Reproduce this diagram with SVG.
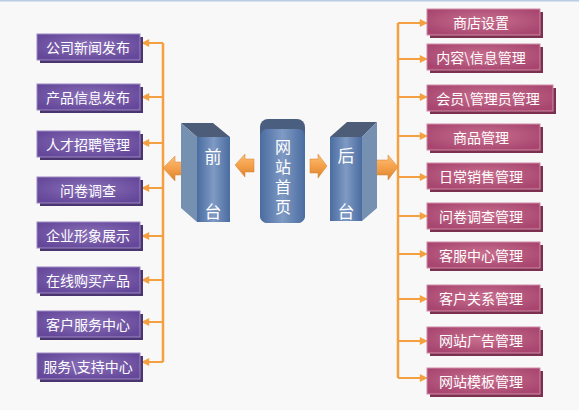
<svg xmlns="http://www.w3.org/2000/svg" width="579" height="410" viewBox="0 0 579 410">
<defs>
<radialGradient id="gP" cx="0.5" cy="0.45" r="0.6">
<stop offset="0" stop-color="#8a70b8"/>
<stop offset="1" stop-color="#65489a"/>
</radialGradient>
<radialGradient id="gR" cx="0.5" cy="0.45" r="0.6">
<stop offset="0" stop-color="#c8708f"/>
<stop offset="1" stop-color="#a84670"/>
</radialGradient>
<linearGradient id="gB" x1="0" y1="0" x2="1" y2="0">
<stop offset="0" stop-color="#4a6ca0"/>
<stop offset="0.5" stop-color="#7f9ac4"/>
<stop offset="1" stop-color="#4a6ca0"/>
</linearGradient>
<linearGradient id="gO" x1="0" y1="0" x2="0" y2="1">
<stop offset="0" stop-color="#fbbf78"/>
<stop offset="0.5" stop-color="#f5a04a"/>
<stop offset="1" stop-color="#d8832e"/>
</linearGradient>
<marker id="ah" viewBox="0 0 10 10" refX="9" refY="5" markerWidth="9" markerHeight="8" markerUnits="userSpaceOnUse" orient="auto">
<path d="M0,0 L10,5 L0,10 Z" fill="#f5a040"/>
</marker>
<style>
.pshadow{fill:#4a3570}
.pbox{fill:url(#gP);stroke:#9c88c4;stroke-width:1}
.rshadow{fill:#7c3050}
.rbox{fill:url(#gR);stroke:#d08aa4;stroke-width:1}
.t{font-family:"Noto Sans CJK SC","Noto Sans",sans-serif;font-size:14px;fill:#ffffff;text-anchor:middle;dominant-baseline:central}
.tb{font-family:"Noto Sans CJK SC","Noto Sans",sans-serif;font-size:17px;fill:#ffffff;text-anchor:middle;dominant-baseline:central}
.tv{font-family:"Noto Sans CJK SC","Noto Sans",sans-serif;font-size:16px;fill:#ffffff;writing-mode:vertical-rl;letter-spacing:4px}
.ln{stroke:#f5a040;stroke-width:2.5;fill:none}
.ar{stroke:#f5a040;stroke-width:2;fill:none;marker-end:url(#ah)}
.big{fill:url(#gO);stroke:#d8832e;stroke-width:0.5}
</style>
</defs>
<rect x="0" y="0" width="579" height="410" fill="#f8f8f8"/>
<line x1="0" y1="0.5" x2="579" y2="0.5" stroke="#b8cce4" stroke-width="2"/>

<g id="connectors">
<line class="ln" x1="163" y1="43" x2="163" y2="362"/>
<line class="ar" x1="163" y1="43" x2="142" y2="43"/>
<line class="ar" x1="163" y1="97" x2="142" y2="97"/>
<line class="ar" x1="163" y1="143" x2="142" y2="143"/>
<line class="ar" x1="163" y1="188" x2="142" y2="188"/>
<line class="ar" x1="163" y1="236" x2="142" y2="236"/>
<line class="ar" x1="163" y1="280" x2="142" y2="280"/>
<line class="ar" x1="163" y1="322" x2="142" y2="322"/>
<line class="ar" x1="163" y1="362" x2="142" y2="362"/>
<line class="ln" x1="398" y1="23" x2="398" y2="378"/>
<line class="ar" x1="398" y1="23" x2="427" y2="23"/>
<line class="ar" x1="398" y1="59" x2="427" y2="59"/>
<line class="ar" x1="398" y1="97" x2="427" y2="97"/>
<line class="ar" x1="398" y1="136" x2="427" y2="136"/>
<line class="ar" x1="398" y1="177" x2="427" y2="177"/>
<line class="ar" x1="398" y1="216" x2="427" y2="216"/>
<line class="ar" x1="398" y1="254" x2="427" y2="254"/>
<line class="ar" x1="398" y1="299" x2="427" y2="299"/>
<line class="ar" x1="398" y1="341" x2="427" y2="341"/>
<line class="ar" x1="398" y1="378" x2="427" y2="378"/>
<path class="big" d="M163,168 L175,156 L175,162 L186,162 L186,175 L175,175 L175,181 Z"/>
<path class="big" d="M235,165 L245,154 L245,159 L254,159 L254,172 L245,172 L245,177 Z"/>
<path class="big" d="M327,166 L318,154 L318,159 L310,159 L310,173 L318,173 L318,178 Z"/>
<path class="big" d="M398,167 L388,155 L388,160 L375,160 L375,175 L388,175 L388,180 Z"/>
</g>

<g id="qiantai">
<polygon points="181,123 213,123 230,137 197,137" fill="#4d5d78"/>
<polygon points="181,123 197,137 197,222 181,208" fill="#7590b0"/>
<rect x="197" y="137" width="33" height="85" fill="url(#gB)"/>
<text class="tb" x="213" y="155">前</text>
<text class="tb" x="213" y="210">台</text>
</g>

<g id="shouye">
<rect x="260" y="119" width="45" height="104" rx="8" fill="#4a5f80"/>
<rect x="260" y="129" width="45" height="94" rx="7" fill="url(#gB)"/>
<text class="tv" x="283" y="139">网站首页</text>
</g>

<g id="houtai">
<polygon points="347,122 377,122 362,137 330,137" fill="#4d5d78"/>
<polygon points="362,137 377,122 377,208 362,221" fill="#7590b0"/>
<rect x="330" y="137" width="32" height="84" fill="url(#gB)"/>
<text class="tb" x="346" y="154">后</text>
<text class="tb" x="346" y="210">台</text>
</g>

<g id="l1"><rect class="pshadow" x="40" y="37" width="103" height="26"/><rect class="pbox" x="37" y="34" width="103" height="26"/><text class="t" x="88" y="47">公司新闻发布</text></g>
<g id="l2"><rect class="pshadow" x="40" y="87" width="103" height="26"/><rect class="pbox" x="37" y="84" width="103" height="26"/><text class="t" x="88" y="97">产品信息发布</text></g>
<g id="l3"><rect class="pshadow" x="40" y="134" width="103" height="26"/><rect class="pbox" x="37" y="131" width="103" height="26"/><text class="t" x="88" y="144">人才招聘管理</text></g>
<g id="l4"><rect class="pshadow" x="40" y="180" width="103" height="26"/><rect class="pbox" x="37" y="177" width="103" height="26"/><text class="t" x="88" y="190">问卷调查</text></g>
<g id="l5"><rect class="pshadow" x="40" y="225" width="103" height="26"/><rect class="pbox" x="37" y="222" width="103" height="26"/><text class="t" x="88" y="235">企业形象展示</text></g>
<g id="l6"><rect class="pshadow" x="40" y="270" width="103" height="26"/><rect class="pbox" x="37" y="267" width="103" height="26"/><text class="t" x="88" y="280">在线购买产品</text></g>
<g id="l7"><rect class="pshadow" x="40" y="314" width="103" height="26"/><rect class="pbox" x="37" y="311" width="103" height="26"/><text class="t" x="88" y="324">客户服务中心</text></g>
<g id="l8"><rect class="pshadow" x="40" y="356" width="103" height="26"/><rect class="pbox" x="37" y="353" width="103" height="26"/><text class="t" x="88" y="366">服务\支持中心</text></g>

<g id="r1"><rect class="rshadow" x="430" y="12" width="113" height="26"/><rect class="rbox" x="427" y="9" width="113" height="26"/><text class="t" x="481" y="22">商店设置</text></g>
<g id="r2"><rect class="rshadow" x="430" y="47" width="113" height="26"/><rect class="rbox" x="427" y="44" width="113" height="26"/><text class="t" x="481" y="57">内容\信息管理</text></g>
<g id="r3"><rect class="rshadow" x="430" y="88" width="126" height="26"/><rect class="rbox" x="427" y="85" width="126" height="26"/><text class="t" x="488" y="98">会员\管理员管理</text></g>
<g id="r4"><rect class="rshadow" x="430" y="127" width="113" height="26"/><rect class="rbox" x="427" y="124" width="113" height="26"/><text class="t" x="481" y="137">商品管理</text></g>
<g id="r5"><rect class="rshadow" x="430" y="166" width="113" height="26"/><rect class="rbox" x="427" y="163" width="113" height="26"/><text class="t" x="481" y="176">日常销售管理</text></g>
<g id="r6"><rect class="rshadow" x="430" y="206" width="113" height="26"/><rect class="rbox" x="427" y="203" width="113" height="26"/><text class="t" x="481" y="216">问卷调查管理</text></g>
<g id="r7"><rect class="rshadow" x="430" y="245" width="113" height="26"/><rect class="rbox" x="427" y="242" width="113" height="26"/><text class="t" x="481" y="255">客服中心管理</text></g>
<g id="r8"><rect class="rshadow" x="430" y="288" width="113" height="26"/><rect class="rbox" x="427" y="285" width="113" height="26"/><text class="t" x="481" y="298">客户关系管理</text></g>
<g id="r9"><rect class="rshadow" x="430" y="330" width="113" height="26"/><rect class="rbox" x="427" y="327" width="113" height="26"/><text class="t" x="481" y="340">网站广告管理</text></g>
<g id="r10"><rect class="rshadow" x="430" y="371" width="113" height="26"/><rect class="rbox" x="427" y="368" width="113" height="26"/><text class="t" x="481" y="381">网站模板管理</text></g>
</svg>
